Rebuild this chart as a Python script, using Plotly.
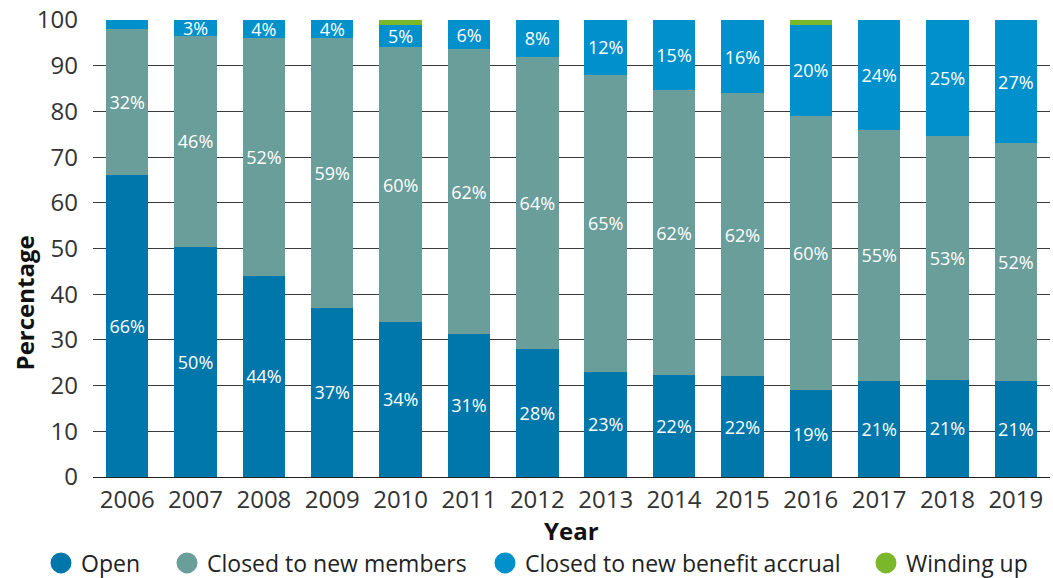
import plotly.graph_objects as go

years = ["2006", "2007", "2008", "2009", "2010", "2011", "2012",
         "2013", "2014", "2015", "2016", "2017", "2018", "2019"]

open_pct = [66, 50.3, 44, 37, 34, 31.3, 28, 23, 22.3, 22, 19, 21, 21.3, 21]
closed_members_pct = [32, 46.3, 52, 59, 60, 62.3, 64, 65, 62.3, 62, 60, 55, 53.3, 52]
closed_accrual_pct = [2, 3.4, 4, 4, 5, 6.4, 8, 12, 15.4, 16, 20, 24, 25.4, 27]
winding_up_pct = [0, 0, 0, 0, 1, 0, 0, 0.3, 0, 0, 1, 0.2, 0, 0.2]

series = [
    ("Open", open_pct, "#0077AA", True),
    ("Closed to new members", closed_members_pct, "#6A9E9A", True),
    ("Closed to new benefit accrual", closed_accrual_pct, "#0090CC", True),
    ("Winding up", winding_up_pct, "#7AB72B", False),
]

FONT = "Open Sans"
W, H = 1053, 578
fig = go.Figure()

for name, vals, color, labelled in series:
    text = [f"{v:.0f}%" if labelled and v >= 3 else "" for v in vals]
    fig.add_trace(go.Bar(
        x=years, y=vals, name=name, marker=dict(color=color, line=dict(width=0)),
        text=text, textposition="inside", insidetextanchor="middle",
        textangle=0, constraintext="none",
        textfont=dict(family=FONT, size=18, color="white"),
        showlegend=False, hoverinfo="x+y+name",
    ))

# one legend box per series so the entries can be spaced out along the bottom
legend_left_px = [41, 167, 485, 866]
legend_ids = ["legend", "legend2", "legend3", "legend4"]
legend_layout = {}
for (name, vals, color, _), lid, left in zip(series, legend_ids, legend_left_px):
    fig.add_trace(go.Scatter(
        x=[None], y=[None], mode="markers", name=name,
        marker=dict(symbol="circle", size=22, color=color,
                    line=dict(width=5, color=color)),
        showlegend=True, legend=lid,
    ))
    legend_layout[lid] = dict(
        orientation="h", x=left / W, xanchor="left", xref="container",
        y=(H - 563) / H, yanchor="middle", yref="container",
        font=dict(family=FONT, size=23, color="#222222"),
        itemsizing="trace", bgcolor="rgba(0,0,0,0)", borderwidth=0,
    )

fig.update_layout(
    barmode="stack",
    bargap=0.38,
    width=W, height=H,
    margin=dict(l=93, r=3, t=20, b=101),
    plot_bgcolor="white", paper_bgcolor="white",
    font=dict(family=FONT, size=23, color="#333333"),
    xaxis=dict(
        showgrid=False, showline=False, ticks="", zeroline=False,
        tickfont=dict(family=FONT, size=24, color="#333333"),
        ticklabelstandoff=6,
    ),
    yaxis=dict(
        range=[0, 100], dtick=10, tick0=0,
        showgrid=True, gridcolor="#3a3a3a", gridwidth=1,
        zeroline=True, zerolinecolor="#222222", zerolinewidth=1,
        showline=False, ticks="",
        tickfont=dict(family=FONT, size=24, color="#333333"),
        ticklabelstandoff=14,
    ),
    annotations=[
        dict(text="<b>Year</b>", xref="paper", yref="paper", x=0.5, y=-0.118,
             xanchor="center", yanchor="middle", showarrow=False,
             font=dict(family=FONT, size=24, color="#111111")),
        dict(text="<b>Percentage</b>", xref="paper", yref="paper", x=-0.072, y=0.38,
             xanchor="center", yanchor="middle", textangle=-90, showarrow=False,
             font=dict(family=FONT, size=24, color="#111111")),
    ],
    **legend_layout,
)

fig.write_html("out.html")
